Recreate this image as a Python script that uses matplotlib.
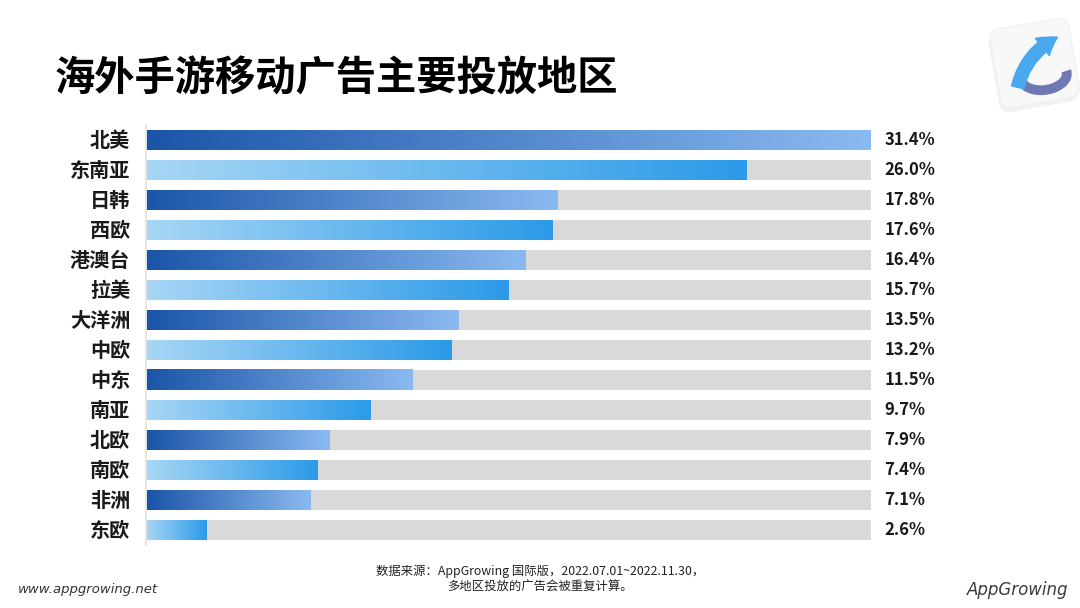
import matplotlib.pyplot as plt
import numpy as np
from matplotlib.colors import LinearSegmentedColormap
from matplotlib.patches import FancyBboxPatch, FancyArrowPatch, Arc
import matplotlib.transforms as mtransforms

plt.rcParams['font.family'] = ['Noto Sans CJK SC', 'DejaVu Sans']

regions = ["北美", "东南亚", "日韩", "西欧", "港澳台", "拉美", "大洋洲",
           "中欧", "中东", "南亚", "北欧", "南欧", "非洲", "东欧"]
shares = [31.4, 26.0, 17.8, 17.6, 16.4, 15.7, 13.5,
          13.2, 11.5, 9.7, 7.9, 7.4, 7.1, 2.6]
max_share = max(shares)

dark_cmap = LinearSegmentedColormap.from_list("dark", ["#1a55a8", "#8bbaf1"])
light_cmap = LinearSegmentedColormap.from_list("light", ["#a7d6f5", "#2b9ae8"])
grad = np.linspace(0, 1, 256).reshape(1, -1)

fig = plt.figure(figsize=(10.8, 6.08), dpi=100)
W, H = 1080, 608

# main bar axes: x 147..871 px, y 125..545 px
ax = fig.add_axes([147 / W, 1 - 545 / H, (871 - 147) / W, 420 / H])
n = len(regions)
bh = 20 / 30
ax.barh(range(n), [max_share] * n, height=bh, color="#d9d9d9", zorder=1)
ytr = ax.get_yaxis_transform()
for i, (name, v) in enumerate(zip(regions, shares)):
    cmap = dark_cmap if i % 2 == 0 else light_cmap
    ax.imshow(grad, cmap=cmap, aspect="auto", interpolation="bicubic",
              extent=(0, v, i + bh / 2, i - bh / 2), zorder=2)
    ax.annotate(f"{v:.1f}%", xy=(max_share, i), xytext=(9.5, 0),
                textcoords="offset points", va="center", ha="left",
                fontsize=12, fontweight="bold", color="#1a1a1a",
                annotation_clip=False)
    ax.annotate(name, xy=(0, i), xycoords=ytr, xytext=(-12, 0),
                textcoords="offset points", va="center", ha="right",
                fontsize=14.5, fontweight="bold", color="#1a1a1a",
                annotation_clip=False)

ax.set_xlim(0, max_share)
ax.set_ylim(n - 0.5, -0.5)
ax.set_yticks([])
ax.set_xticks([])
for s in ["top", "right", "bottom"]:
    ax.spines[s].set_visible(False)
ax.spines["left"].set_color("#e0e0e0")
ax.spines["left"].set_linewidth(1.2)
ax.spines["left"].set_position(("outward", 1))

# title
fig.text(55 / W, 1 - 79 / H, "海外手游移动广告主要投放地区", fontsize=29,
         fontweight="heavy", color="#000000", va="center", ha="left")

# footnote
fig.text(540 / W, 1 - 571 / H, "数据来源：AppGrowing 国际版，2022.07.01~2022.11.30，",
         fontsize=8.9, ha="center", va="center", color="#222222")
fig.text(540 / W, 1 - 586 / H, "多地区投放的广告会被重复计算。",
         fontsize=8.9, ha="center", va="center", color="#222222")
fig.text(18 / W, 1 - 590 / H, "www.appgrowing.net", fontsize=9.5,
         style="italic", ha="left", va="center", color="#333333",
         family="DejaVu Sans")
fig.text(1068 / W, 1 - 590 / H, "AppGrowing", fontsize=12, style="italic",
         ha="right", va="center", color="#3c3c3c", family="DejaVu Sans")

# logo in top right corner (pixel overlay)
lax = fig.add_axes([0, 0, 1, 1], zorder=5)
lax.set_xlim(0, W)
lax.set_ylim(H, 0)
lax.axis("off")
rot = mtransforms.Affine2D().rotate_deg_around(1035, 65, -10) + lax.transData
shadow = FancyBboxPatch((993, 27), 80, 80, boxstyle="round,pad=0,rounding_size=10",
                        facecolor="#e8e8e8", edgecolor="none", transform=rot, alpha=0.6)
card = FancyBboxPatch((995, 23), 80, 80, boxstyle="round,pad=0,rounding_size=10",
                      facecolor="#f8f8f8", edgecolor="#f0f0f0", linewidth=0.8,
                      transform=rot)
lax.add_patch(shadow)
lax.add_patch(card)
hook = Arc((1044, 76), 46, 28, angle=-8, theta1=-5, theta2=195,
           color="#6e79b4", linewidth=7)
lax.add_patch(hook)
arrow = FancyArrowPatch((1017, 90), (1060, 36), connectionstyle="arc3,rad=-0.25",
                        arrowstyle="simple,head_width=16,head_length=13,tail_width=9",
                        color="#4aa9ee")
lax.add_patch(arrow)

fig.savefig("out.png", dpi=100, facecolor="white")
